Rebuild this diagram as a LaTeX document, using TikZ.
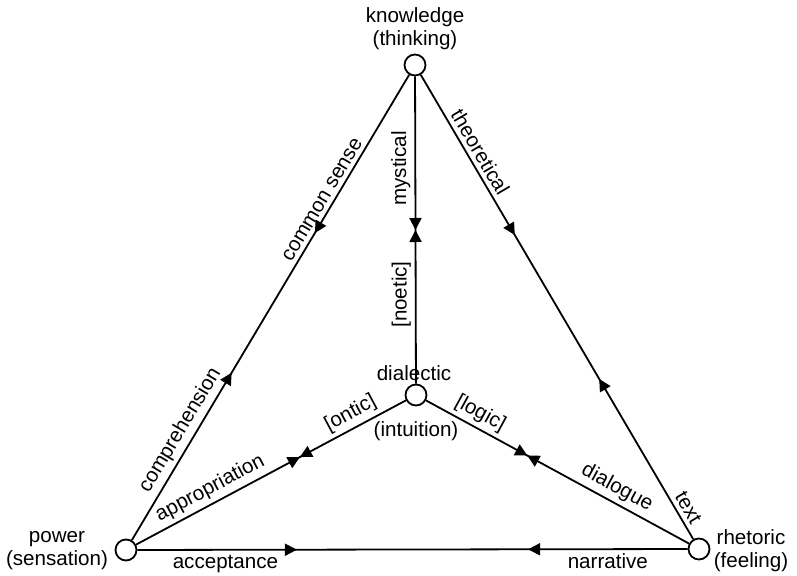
\documentclass[tikz,border=0pt]{standalone}
\usepackage{fontspec}
\setmainfont{Liberation Sans}
\usetikzlibrary{arrows.meta,decorations.markings}

\tikzset{
  vertex/.style={circle, draw, fill=white, minimum size=10.5pt, inner sep=0pt},
  lbl/.style={font=\fontsize{10.3}{11.5}\selectfont, inner sep=2pt},
  arrowhd/.tip={Triangle[length=6pt,width=6pt]},
  twoway/.style 2 args={postaction={decorate}, decoration={markings,
      mark=at position #1 with {\arrow{arrowhd}},
      mark=at position #2 with {\arrowreversed{arrowhd}}}},
}

\begin{document}
\begin{tikzpicture}[x=0.5pt, y=-0.5pt, line width=0.9pt]
\useasboundingbox (0,0) rectangle (797,576);

% corners of the triangle and its centre
\node[vertex] (kn) at (415,65) {};
\node[vertex] (pw) at (126,550) {};
\node[vertex] (rh) at (699,549) {};
\node[vertex] (di) at (416,395) {};

\node[lbl, align=center] (knl) at (415,29) {knowledge\\(thinking)};
\node[lbl, align=center] (pwl) at (57,551) {power\\(sensation)};
\node[lbl, align=center] (rhl) at (751,551) {rhetoric\\(feeling)};
\node[lbl] (dil) at (414,373) {dialectic};
\node[lbl] (dil2) at (416,431) {(intuition)};

% outer edges
\draw[twoway={0.36}{0.66}] (pw) -- (kn)
   node[lbl, sloped, above, pos=0.22] {comprehension}
   node[lbl, sloped, above, pos=0.72] {common sense};
\draw[twoway={0.345}{0.655}] (kn) -- (rh)
   node[lbl, sloped, above, pos=0.18] {theoretical}
   node[lbl, sloped, above, pos=0.945] {text};
\draw[twoway={0.29}{0.71}] (pw) -- (rh)
   node[lbl, below, pos=0.16] {acceptance}
   node[lbl, below, pos=0.855] {narrative};

% inner edges
\draw[twoway={0.5}{0.5}] (di) -- (kn)
   node[lbl, rotate=90, anchor=south, pos=0.29] {[noetic]}
   node[lbl, rotate=90, anchor=south, pos=0.7] {mystical};
\draw[twoway={0.607}{0.607}] (pw) -- (di)
   node[lbl, sloped, above, pos=0.30] {appropriation}
   node[lbl, sloped, above, pos=0.82] {[ontic]};
\draw[twoway={0.385}{0.385}] (di) -- (rh)
   node[lbl, sloped, above, pos=0.18] {[logic]}
   node[lbl, sloped, above, pos=0.70] {dialogue};

\end{tikzpicture}
\end{document}
